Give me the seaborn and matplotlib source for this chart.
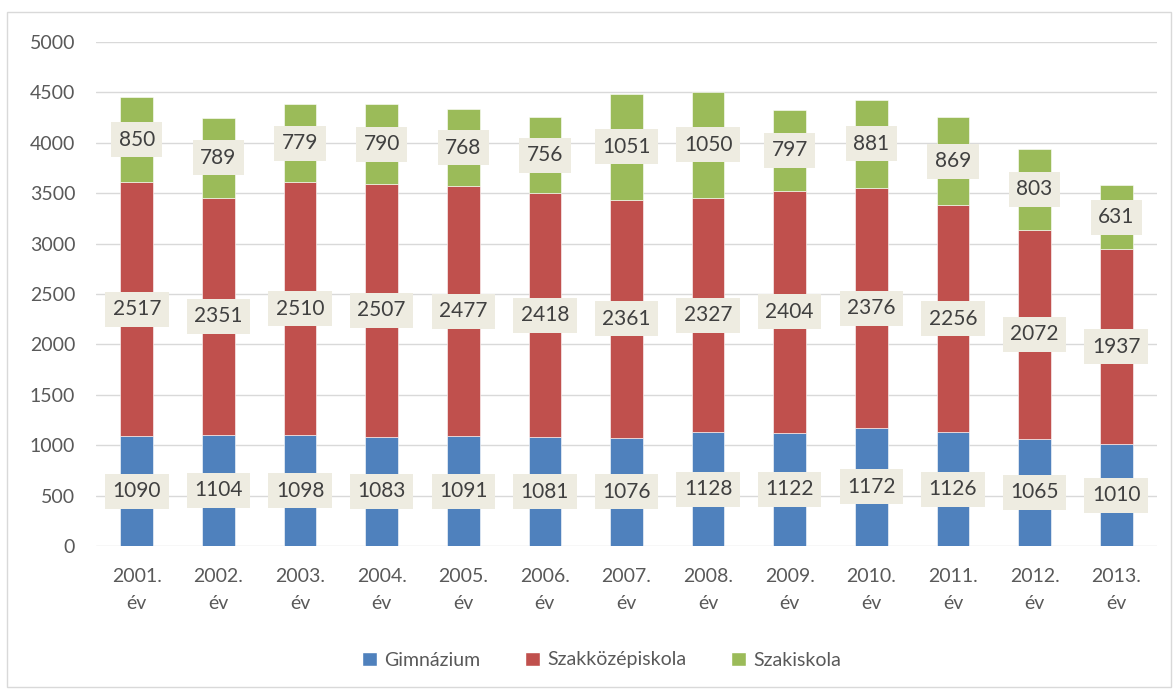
import matplotlib
matplotlib.use("Agg")
from matplotlib import pyplot as plt
from matplotlib.patches import Rectangle, Patch
import seaborn as sns
import numpy as np

# adatok
evek = ["2001.\név", "2002.\név", "2003.\név", "2004.\név", "2005.\név", "2006.\név", "2007.\név",
        "2008.\név", "2009.\név", "2010.\név", "2011.\név", "2012.\név", "2013.\név"]
gimnazium = [1090, 1104, 1098, 1083, 1091, 1081, 1076, 1128, 1122, 1172, 1126, 1065, 1010]
szakkozep = [2517, 2351, 2510, 2507, 2477, 2418, 2361, 2327, 2404, 2376, 2256, 2072, 1937]
szakiskola = [850, 789, 779, 790, 768, 756, 1051, 1050, 797, 881, 869, 803, 631]
sorozatok = ["Gimnázium", "Szakközépiskola", "Szakiskola"]
szinek = ["#4F81BD", "#C0504D", "#9BBB59"]

sns.set_theme(style="white")
plt.rcParams['font.family'] = ['Lato', 'DejaVu Sans']

fig = plt.figure(figsize=(11.73, 6.9), dpi=100)
ax = fig.add_axes([96 / 1173, (690 - 546) / 690, (1157 - 96) / 1173, 504 / 690])

also = np.zeros(len(evek))
for nev, ertekek, szin in zip(sorozatok, [gimnazium, szakkozep, szakiskola], szinek):
    sns.barplot(x=evek, y=ertekek, bottom=also, color=szin, width=0.4, ax=ax,
                edgecolor="white", linewidth=0.4, saturation=1)
    # cimkek a szegmensek kozepen
    for i, v in enumerate(ertekek):
        ax.text(i, also[i] + v / 2, str(v), ha="center", va="center", fontsize=15,
                color="#404040",
                bbox=dict(boxstyle="square,pad=0.36", facecolor="#EEECE1", edgecolor="none"))
    also = also + np.array(ertekek)

ax.set_ylim(0, 5000)
ax.set_xlim(-0.5, 12.5)
ax.set_yticks(range(0, 5001, 500))
ax.yaxis.grid(True, color="#D9D9D9", linewidth=1)
ax.set_axisbelow(True)
for s in ax.spines.values():
    s.set_visible(False)
ax.tick_params(axis="both", length=0, labelsize=14, colors="#595959")
ax.tick_params(axis="y", pad=15)
ax.tick_params(axis="x", pad=16)
for t in ax.get_xticklabels():
    t.set_linespacing(1.7)

kezelok = [Patch(facecolor=c, label=n) for n, c in zip(sorozatok, szinek)]
fig.legend(handles=kezelok, loc="center", bbox_to_anchor=(0.513, 1 - 660 / 690), ncol=3,
           frameon=False, fontsize=14, labelcolor="#595959", handlelength=0.75, handleheight=0.75,
           columnspacing=2.3, handletextpad=0.4)

# keret
fig.patches.append(Rectangle((7 / 1173, 3 / 690), 1164 / 1173, 675 / 690, transform=fig.transFigure,
                             fill=False, edgecolor="#D9D9D9", linewidth=1))

fig.savefig("out.png", dpi=100)
